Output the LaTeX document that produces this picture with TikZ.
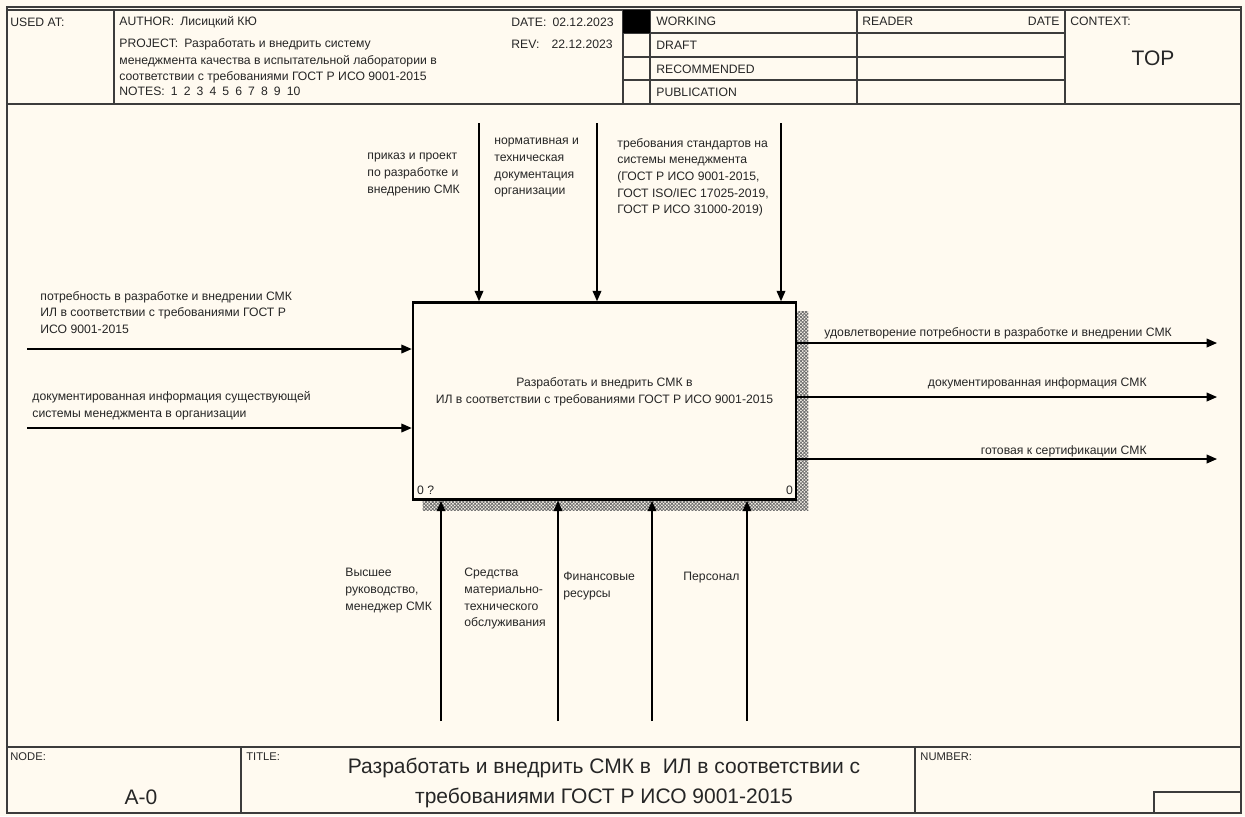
\documentclass[tikz,border=0pt]{standalone}
\usepackage{fontspec}
\setmainfont{Liberation Sans}
\definecolor{idefpaper}{HTML}{FFFAF0}
\definecolor{idefframe}{HTML}{3C3C3C}
\definecolor{idefshade}{HTML}{6E6E6E}
\definecolor{ideftext}{HTML}{262626}
\usepackage{tikz}
\usetikzlibrary{arrows.meta, positioning, backgrounds, calc, patterns.meta}

\tikzset{
  lbl/.style={font=\fontsize{6.1}{8.3}\selectfont, align=left, inner sep=0pt, text=ideftext},
  hdr/.style={font=\fontsize{6.1}{8.3}\selectfont, inner sep=0pt, anchor=west, text=ideftext},
  small/.style={font=\fontsize{5.6}{7}\selectfont, inner sep=0pt, anchor=west, text=ideftext},
  big/.style={font=\fontsize{10.5}{15}\selectfont, inner sep=0pt, align=center, text=ideftext},
  frm/.style={draw=idefframe, line width=0.7pt},
  flow/.style={draw=black, line width=0.6pt, -{Triangle[length=5.2pt, width=4.4pt]}},
  actbox/.style={draw=black, line width=1.3pt, fill=idefpaper, minimum width=191.5pt,
    minimum height=98.5pt, inner sep=0pt}
}

\begin{document}
\begin{tikzpicture}[x=0.5pt, y=-0.5pt]
        \useasboundingbox (0,0) rectangle (1245,816);
        % frame and header
        \draw[frm] (7,7) rectangle (1241,813);
        \draw[frm] (7,10) -- (1241,10);
        \draw[frm] (7,104) -- (1241,104);
        \draw[frm] (7,747) -- (1241,747);
        \foreach \hx in {114, 623, 650, 857, 1065}
          \draw[frm] (\hx,10) -- (\hx,104);
        \foreach \hy in {33, 57, 80}
          \draw[frm] (623,\hy) -- (1065,\hy);
        \fill[black] (623,10) rectangle (650,33);
        \draw[frm] (241,747) -- (241,813);
        \draw[frm] (915,747) -- (915,813);
        \draw[frm] (1154,813) -- (1154,792) -- (1241,792);

        \node[hdr] (usedat) at (10,22) {USED AT:};
        \node[hdr] (author) at (119,22) {AUTHOR:\enspace Лисицкий КЮ};
        \node[hdr] (date) at (511,22) {DATE:\enspace 02.12.2023};
        \node[hdr] (project) at (119,44) {PROJECT:\enspace Разработать и внедрить систему};
        \node[hdr] (rev) at (511,44) {REV:\quad 22.12.2023};
        \node[hdr] (proj2) at (119,61) {менеджмента качества в испытательной лаборатории в};
        \node[hdr] (proj3) at (119,77) {соответствии с требованиями ГОСТ Р ИСО 9001-2015};
        \node[hdr] (notes) at (119,91) {NOTES:\enspace 1\enspace 2\enspace 3\enspace 4\enspace 5\enspace 6\enspace 7\enspace 8\enspace 9\enspace 10};
        \foreach \sy/\st in {21/WORKING, 45/DRAFT, 69/RECOMMENDED, 92/PUBLICATION}
          \node[hdr] at (656,\sy) {\st};
        \node[hdr] (reader) at (862,21) {READER};
        \node[hdr, anchor=east] (rdate) at (1060,21) {DATE};
        \node[hdr] (context) at (1070,21) {CONTEXT:};
        \node[big] (top) at (1153,58) {TOP};

        % footer
        \node[small] (nodelbl) at (10,757) {NODE:};
        \node[big] (nodenum) at (141,797) {A-0};
        \node[small] (titlelbl) at (246,757) {TITLE:};
        \node[big] (title) at (604,783) {Разработать и внедрить СМК в\ \ ИЛ в соответствии с\\требованиями ГОСТ Р ИСО 9001-2015};
        \node[small] (numberlbl) at (920,757) {NUMBER:};

        % activity
        \node[actbox] (act) at (604.5,401) {};
        \begin{scope}[on background layer]
          \fill[idefpaper] (0,0) rectangle (1245,816);
          \fill[pattern={Hatch[angle=45, distance=1.2pt, line width=0.4pt]}, pattern color=idefshade]
            ([shift={(11,10)}]act.north west) rectangle ([shift={(11,10)}]act.south east);
        \end{scope}
        \node[lbl, align=center] (acttitle) at ($(act.center)+(0,-9)$)
          {Разработать и внедрить СМК в\\ИЛ в соответствии с требованиями ГОСТ Р ИСО 9001-2015};
        \node[lbl, anchor=south west] (actnum) at ([shift={(5,-6)}]act.south west) {0 ?};
        \node[lbl, anchor=south east] (actref) at ([shift={(-4,-6)}]act.south east) {0};

        % controls
        \foreach \cx/\nm in {479/c1, 597/c2, 781/c3} {
          \coordinate (\nm) at (\cx,123);
          \draw[flow] (\nm) -- (\nm |- act.north);
        }
        \node[lbl, anchor=north west] (lc1) at (367,153) {приказ и проект\\по разработке и\\внедрению СМК};
        \node[lbl, anchor=north west] (lc2) at (494,138) {нормативная и\\техническая\\документация\\организации};
        \node[lbl, anchor=north west] (lc3) at (617,138) {требования стандартов на\\системы менеджмента\\(ГОСТ Р ИСО 9001-2015,\\ГОСТ ISO/IEC 17025-2019,\\ГОСТ Р ИСО 31000-2019)};

        % inputs
        \foreach \iy/\nm in {349/i1, 428/i2} {
          \coordinate (\nm) at (27,\iy);
          \draw[flow] (\nm) -- (\nm -| act.west);
        }
        \node[lbl, anchor=north west] (li1) at (40,291) {потребность в разработке и внедрении СМК\\ИЛ в соответствии с требованиями ГОСТ Р\\ИСО 9001-2015};
        \node[lbl, anchor=north west] (li2) at (32,391) {документированная информация существующей\\системы менеджмента в организации};

        % outputs
        \foreach \oy/\nm in {343/o1, 397/o2, 459/o3} {
          \coordinate (\nm) at (1217,\oy);
          \draw[flow] (\nm -| act.east) -- (\nm);
        }
        \node[lbl, anchor=north west] (lo1) at (824,327) {удовлетворение потребности в разработке и внедрении СМК};
        \node[lbl, anchor=north east] (lo2) at (1147,377) {документированная информация СМК};
        \node[lbl, anchor=north east] (lo3) at (1147,445) {готовая к сертификации СМК};

        % mechanisms
        \foreach \mx/\nm in {441/m1, 558/m2, 652/m3, 747/m4} {
          \coordinate (\nm) at (\mx,721);
          \draw[flow] (\nm) -- (\nm |- act.south);
        }
        \node[lbl, anchor=north west] (lm1) at (345,568) {Высшее\\руководство,\\менеджер СМК};
        \node[lbl, anchor=north west] (lm2) at (464,568) {Средства\\материально-\\технического\\обслуживания};
        \node[lbl, anchor=north west] (lm3) at (563,572) {Финансовые\\ресурсы};
        \node[lbl, anchor=north west] (lm4) at (683,572) {Персонал};
      \end{tikzpicture}
\end{document}
